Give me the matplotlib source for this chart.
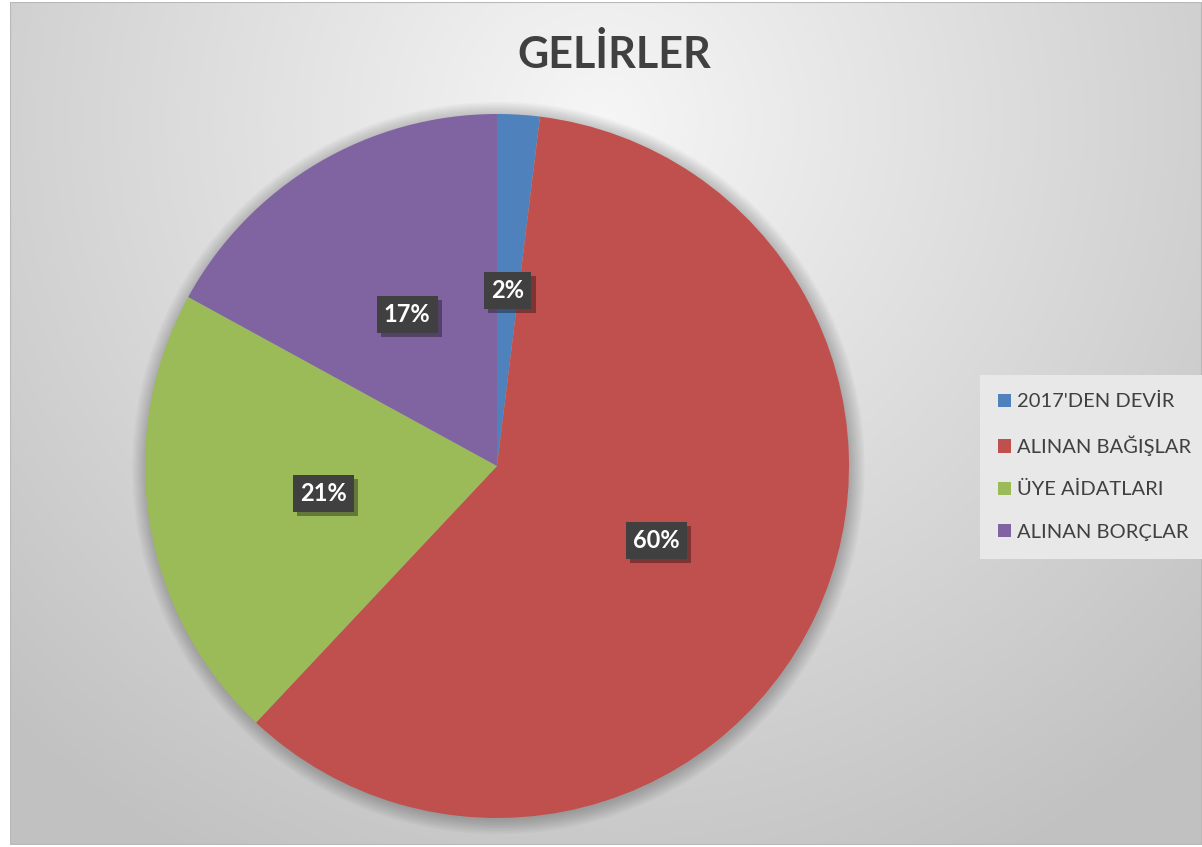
import numpy as np
import matplotlib.pyplot as plt
import matplotlib.patheffects as pe
from matplotlib.patches import Rectangle, Circle

# data (percent shares)
categories = ["2017'DEN DEVİR", "ALINAN BAĞIŞLAR", "ÜYE AİDATLARI", "ALINAN BORÇLAR"]
shares = [1.95, 60.05, 20.97, 17.03]
labels = ["2%", "60%", "21%", "17%"]
colours = ["#4f81bd", "#c0504d", "#9bbb59", "#8064a2"]

W, H = 1202, 847
fig = plt.figure(figsize=(W / 100, H / 100), dpi=100)
fig.patch.set_facecolor("white")

# ── radial grey background of the chart frame ────────────────────────────────
bg = fig.add_axes([10 / W, 2 / H, (W - 10) / W, (H - 4) / H])
yy, xx = np.mgrid[0:H, 0:W - 10]
d = np.hypot((xx - 590) / 900, (yy - 120) / 900)
shade = np.clip(0.965 - 0.22 * d, 0.76, 0.97)
bg.imshow(np.dstack([shade] * 3), aspect="auto", extent=(0, 1, 0, 1), origin="upper")
bg.add_patch(Rectangle((0, 0), 1, 1, transform=bg.transAxes, fill=False,
                       edgecolor="#b8b8b8", linewidth=1.5))
bg.set_axis_off()

# ── pie ─────────────────────────────────────────────────────────────────────
cx, cy, r = 497, 466, 352
ax = fig.add_axes([(cx - r) / W, (H - cy - r) / H, 2 * r / W, 2 * r / H])
# soft shadow round the pie
for i in range(10):
    ax.add_patch(Circle((0.004, -0.006), 1 + 0.0045 * i, color="black",
                        alpha=0.025, lw=0, clip_on=False, zorder=0))
wedges, _ = ax.pie(shares, colors=colours, startangle=90, counterclock=False,
                   radius=1, wedgeprops=dict(linewidth=0, zorder=2))
ax.set_xlim(-1, 1)
ax.set_ylim(-1, 1)
ax.set_aspect("equal")
ax.set_axis_off()

shadow = [pe.withSimplePatchShadow(offset=(3, -3), shadow_rgbFace="black", alpha=0.35)]
lab_r = 0.5
for w, lab in zip(wedges, labels):
    ang = np.deg2rad((w.theta1 + w.theta2) / 2)
    x, y = lab_r * np.cos(ang), lab_r * np.sin(ang)
    t = ax.text(x, y, lab, ha="center", va="center", fontsize=17, fontweight="bold",
                family="Lato", color="white", zorder=5,
                bbox=dict(boxstyle="square,pad=0.3", fc="#404040", ec="none"))
    t.get_bbox_patch().set_path_effects(shadow)

# ── title ───────────────────────────────────────────────────────────────────
fig.text(614 / W, 1 - 54 / H, "GELİRLER", ha="center", va="center",
         fontsize=31, fontweight="bold", family="Lato", color="#404040")

# ── legend ──────────────────────────────────────────────────────────────────
leg = fig.legend(wedges, categories, loc="center left",
                 bbox_to_anchor=(980 / W, 1 - 467 / H),
                 prop=dict(family="Lato", size=14.5), labelcolor="#404040",
                 frameon=True, fancybox=False, framealpha=1, edgecolor="none",
                 facecolor="#e8e8e8", handlelength=0.65, handleheight=0.65,
                 handletextpad=0.3, labelspacing=1.25, borderpad=0.9,
                 borderaxespad=0)

fig.savefig("out.png", dpi=100)
